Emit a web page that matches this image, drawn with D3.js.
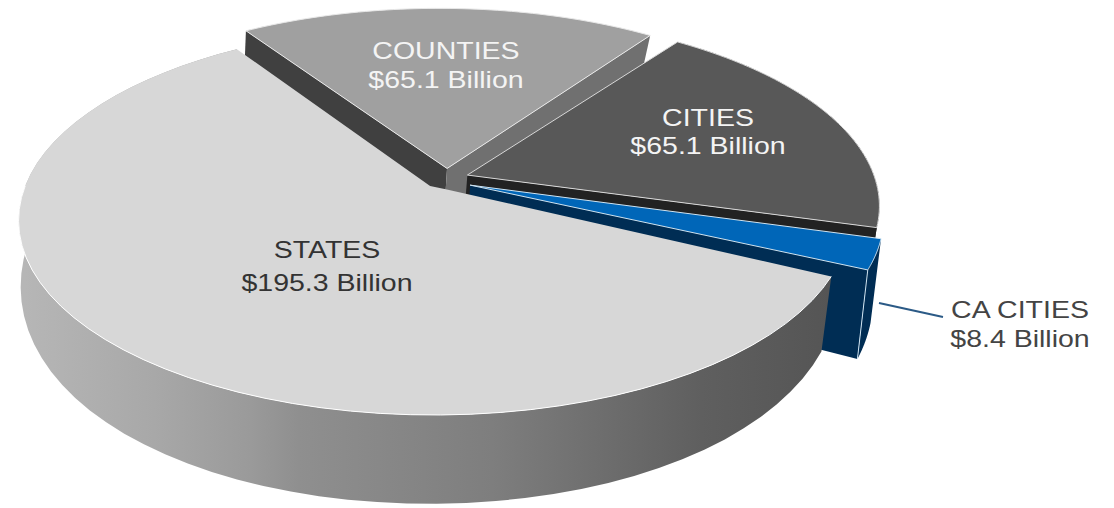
<!DOCTYPE html>
<html>
<head>
<meta charset="utf-8">
<script src="https://cdn.jsdelivr.net/npm/d3@7"></script>
<style>
  html, body { margin: 0; padding: 0; background: #fff; }
  svg { display: block; }
  text { font-family: "Liberation Sans", Arial, sans-serif; font-size: 23px; text-anchor: middle; }
</style>
</head>
<body>
<div id="main"></div>
<script>
const categories = ["STATES", "COUNTIES", "CITIES", "CA CITIES"];
const values = [195.3, 65.1, 65.1, 8.4];

const width = 1114;
const height = 508;

// pie plane is a unit disc, seen in perspective
const topPlane = { x0: 435, y0: 187, rx: 409, ry: 188.8, kx: 0.172, ky: 0.172 };
const basePlane = { x0: 431, y0: 247, rx: 403, ry: 226, kx: 0.172, ky: 0.12 };

// how far each slice is pulled out of the pie, in disc units
const rimShift = [[-0.003, 0], [0.012, -0.13], [0.085, -0.084], [0.085, -0.03]];
const apexShift = [[0.029, 0.013], [0.03, -0.1], [0.08, -0.064], [0.086, -0.01]];
const statesNotch = [-0.012, -0.005];
const baseDrop = [0, 10, 0, 15];

const topColor = ["#d7d7d7", "#a0a0a0", "#585858", "#0066b8"];
const startCutColor = [null, "#404040", null, null];
const endCutColor = [null, "#707070", "#222222", "#002d54"];
const wallColor = ["url(#wallGrad)", null, "#222222", "#002d54"];
const edgeColor = [null, "#e8e8e8", "#d8d8d8", "#cfe4f2"];
const labelColor = ["#333333", "#f4f4f4", "#f4f4f4", "#444444"];
const labelPos = [[327, 258, 291], [446, 59, 88], [708, 126, 154], [1020, 318, 347]];
const labelStretch = 1.24;
const wallStops = [[0, "#b6b6b6"], [0.16, "#a8a8a8"], [0.28, "#9a9a9a"], [0.34, "#8f8f8f"], [0.58, "#7e7e7e"], [0.84, "#5f5f5f"], [1, "#555555"]];

const svg = d3.select("#main").append("svg").attr("width", width).attr("height", height);

const grad = svg.append("defs").append("linearGradient")
  .attr("id", "wallGrad")
  .attr("gradientUnits", "userSpaceOnUse")
  .attr("x1", 25).attr("x2", 830).attr("y1", 0).attr("y2", 0);
wallStops.forEach((s) => {
  grad.append("stop").attr("offset", s[0]).attr("stop-color", s[1]);
});

function project(plane, u, v, drop) {
  return [
    plane.x0 + (plane.rx * u) / (1 - plane.kx * v),
    plane.y0 + (plane.ry * v) / (1 - plane.ky * v) + (drop || 0),
  ];
}

const line = d3.line();

const startDeg = 116;
const arcs = d3.pie().sort(null)
  .startAngle((startDeg * Math.PI) / 180)
  .endAngle(((startDeg + 360) * Math.PI) / 180)(values);

function rimPoints(i, plane, drop) {
  const a = arcs[i];
  const s = rimShift[i];
  return d3.range(0, 61).map((n) => {
    const t = a.startAngle + ((a.endAngle - a.startAngle) * n) / 60;
    return project(plane, Math.sin(t) + s[0], -Math.cos(t) + s[1], drop);
  });
}

function apexPoint(i, plane, drop) {
  return project(plane, apexShift[i][0], apexShift[i][1], drop);
}

// walls go first, back slices before front ones, states last
const slices = svg.append("g").attr("class", "slices");
[1, 2, 3, 0].forEach((i) => {
  const g = slices.append("g").attr("class", "slice");
  const rimTop = rimPoints(i, topPlane, 0);
  const rimBase = rimPoints(i, basePlane, baseDrop[i]);
  const apexTop = apexPoint(i, topPlane, 0);
  const apexBase = apexPoint(i, basePlane, baseDrop[i]);

  if (wallColor[i]) {
    g.append("path")
      .attr("d", line(rimTop.concat(rimBase.slice().reverse())) + "Z")
      .attr("fill", wallColor[i]);
  }
  if (startCutColor[i]) {
    g.append("path")
      .attr("d", line([apexTop, rimTop[0], rimBase[0], apexBase]) + "Z")
      .attr("fill", startCutColor[i]);
  }
  if (endCutColor[i]) {
    g.append("path")
      .attr("d", line([apexTop, rimTop[60], rimBase[60], apexBase]) + "Z")
      .attr("fill", endCutColor[i]);
  }

  let face = [apexTop].concat(rimTop);
  if (i === 0) face.push(project(topPlane, statesNotch[0], statesNotch[1]));
  g.append("path")
    .attr("d", line(face) + "Z")
    .attr("fill", topColor[i])
    .attr("stroke", edgeColor[i] || "none")
    .attr("stroke-width", 1);

  if (i === 3) {
    // light corner where the cut face meets the outer wall
    g.append("path")
      .attr("d", line([rimTop[60], rimBase[60]]))
      .attr("stroke", edgeColor[i])
      .attr("fill", "none");
  }
  if (i === 0) {
    // thin white rim where the top meets the wall
    g.append("path")
      .attr("d", line(rimTop.slice(0, 45)))
      .attr("stroke", "#ffffff")
      .attr("stroke-width", 1)
      .attr("fill", "none");
  }
});

// leader line for the small slice
svg.append("line")
  .attr("x1", 879).attr("y1", 303).attr("x2", 943).attr("y2", 317)
  .attr("stroke", "#2b5a86").attr("stroke-width", 2);

const labels = svg.append("g").attr("class", "labels");
categories.forEach((name, i) => {
  const p = labelPos[i];
  const lines = [name, "$" + values[i].toFixed(1) + " Billion"];
  lines.forEach((t, j) => {
    labels.append("text")
      .attr("transform", `translate(${p[0]},${p[j + 1]}) scale(${labelStretch},1)`)
      .attr("fill", labelColor[i])
      .text(t);
  });
});
</script>
</body>
</html>
